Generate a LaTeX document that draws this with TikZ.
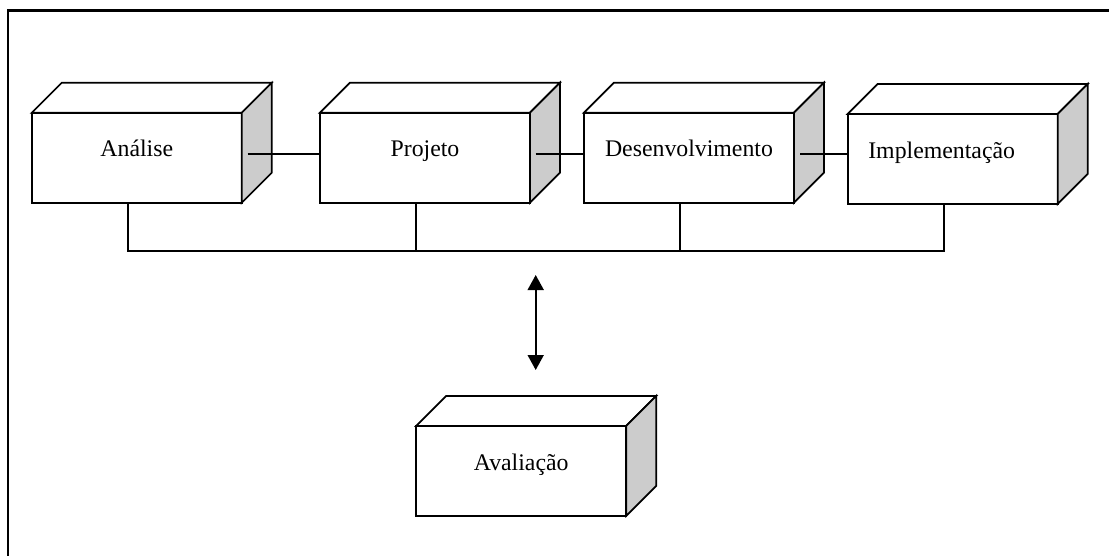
\documentclass[tikz,border=0pt]{standalone}
\usepackage{fontspec}
\setmainfont{Liberation Serif}
\usetikzlibrary{calc,arrows.meta}
\definecolor{sideface}{gray}{0.8}
\begin{document}
\begin{tikzpicture}[x=0.75pt,y=-0.75pt,
  every path/.style={line width=1.3pt},
  block/.style={draw, fill=white, minimum width=157.5pt, minimum height=67.5pt,
    inner sep=0pt, outer sep=0pt, text height=0pt, text depth=1.2pt,
    font=\fontsize{17.85pt}{20pt}\selectfont},
  face/.style={draw, fill=white, line join=miter},
  side/.style={draw, fill=sideface, line join=miter},
  link/.style={draw}]
\useasboundingbox (0,0) rectangle (1109,556);

% frame (only its top and left edges fall inside the page)
\draw[line width=1.9pt] (8,570) -- (8,10.5) -- (1130,10.5);

% front faces of the blocks
\node[block] (ana) at (136.8,157.7) {Análise};
\node[block] (pro) at (425,157.7) {Projeto};
\node[block] (des) at (689,157.7) {Desenvolvimento};
\node[block, text width=126.6pt, align=left] (imp) at (952.7,159) {Implementação};
\node[block] (ava) at (521.2,470.9) {Avaliação};

% top and side faces giving each block depth
\foreach \b in {ana,pro,des,imp,ava}{
  \path[face] (\b.north west) -- ++(30,-30) -- ($(\b.north east)+(30,-30)$)
    -- (\b.north east) -- cycle;
  \path[side] (\b.north east) -- ++(30,-30) -- ($(\b.south east)+(30,-30)$)
    -- (\b.south east) -- cycle;
}

% links between consecutive phases
\draw[link] ($(ana.east)+(5.7,-3.4)$) coordinate (l1) -- (l1 -| pro.west);
\draw[link] ($(pro.east)+(5.7,-3.4)$) coordinate (l2) -- (l2 -| des.west);
\draw[link] ($(des.east)+(6,-3.4)$) coordinate (l3) -- (l3 -| imp.west);

% common bus under the phases
\draw[link] ($(ana.south)+(-9,0)$) -- ++(0,48.3) -| ($(imp.south)+(-8.4,0)$);
\draw[link] ($(pro.south)+(-9,0)$) -- ++(0,48.3);
\draw[link] ($(des.south)+(-9,0)$) -- ++(0,48.3);

% two-way arrow between the bus and the evaluation
\coordinate (atop) at (535.7,275);
\coordinate (abot) at (535.7,370);
\draw[{Triangle[width=12pt,length=11.25pt]}-{Triangle[width=12pt,length=11.25pt]}]
  (atop) -- (abot);
\end{tikzpicture}
\end{document}
